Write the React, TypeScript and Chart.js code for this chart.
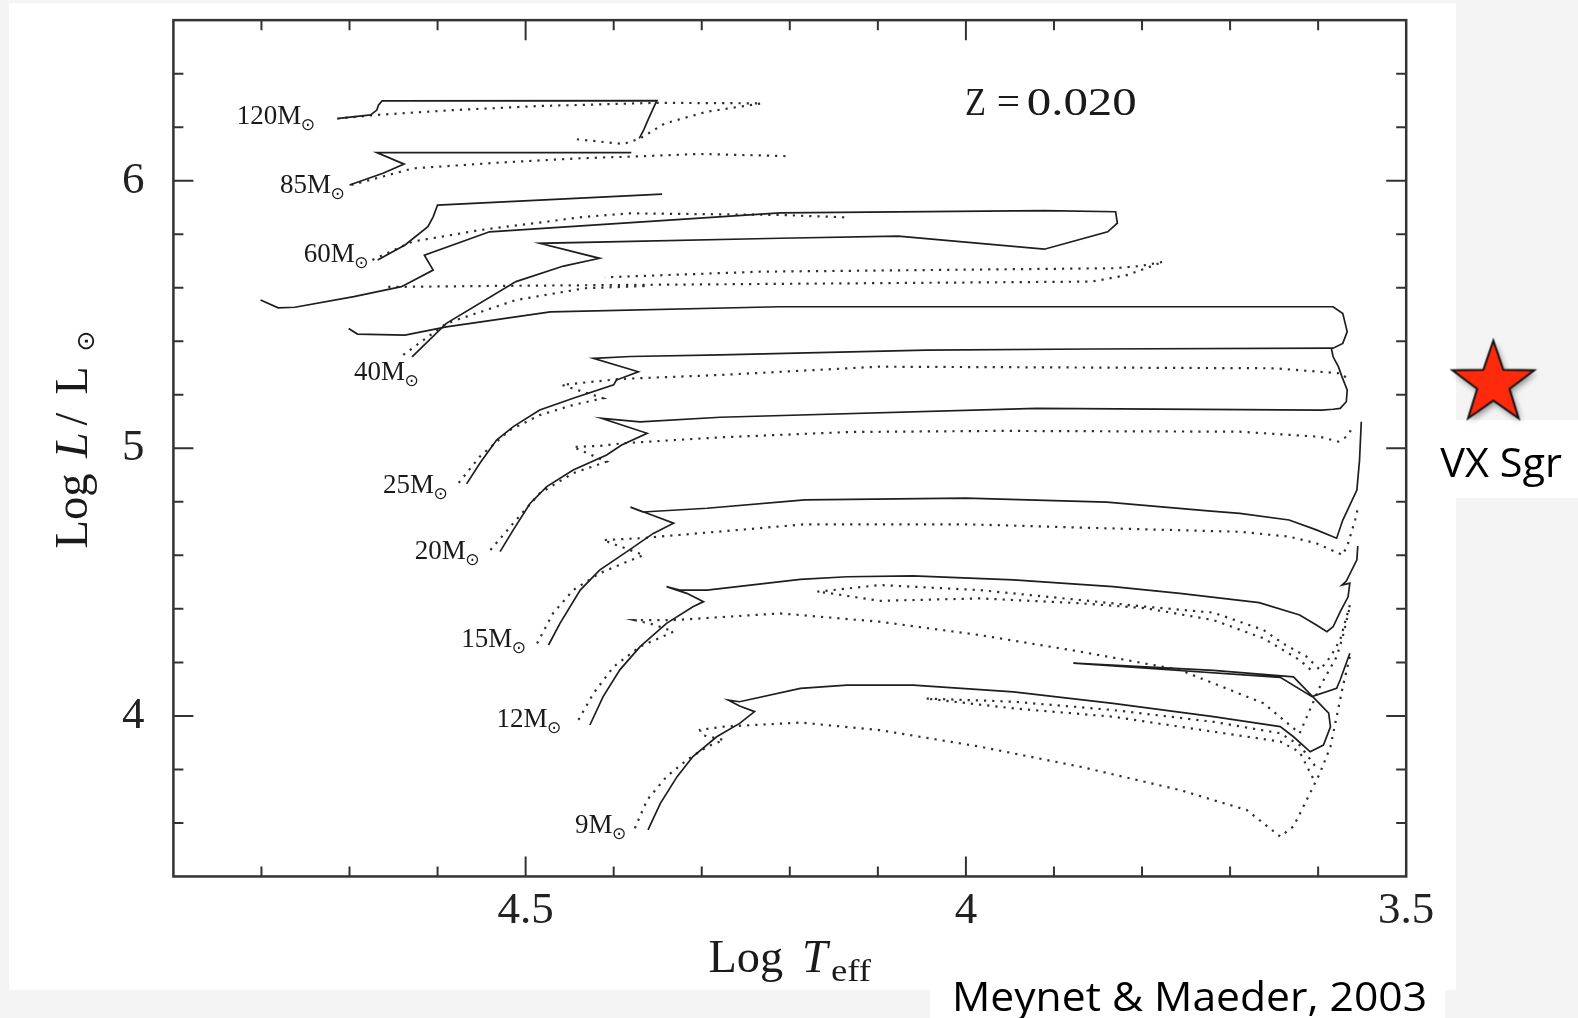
import React, { useEffect, useRef } from "react";
import { Chart, registerables } from "chart.js";

Chart.register(...registerables);

type Pt = [number, number];

// ---------------- Axis ticks ----------------
const xTickValues = [4.8, 4.7, 4.6, 4.5, 4.4, 4.3, 4.2, 4.1, 4.0, 3.9, 3.8, 3.7, 3.6];
const xMajorTicks = [4.5, 4.0];
const xTickLabels = ["4.5", "4", "3.5"];
const yTickValues = [3.6, 3.8, 4.0, 4.2, 4.4, 4.6, 4.8, 5.0, 5.2, 5.4, 5.6, 5.8, 6.0, 6.2, 6.4];
const yMajorTicks = [4, 5, 6];
const yTickLabels = ["4", "5", "6"];

// ---------------- Tracks (log Teff, log L/Lsun) ----------------
const m120Solid: Pt[] = [[4.712,6.233],[4.676,6.246],[4.669,6.264],[4.667,6.283],[4.663,6.298],[4.351,6.299],[4.356,6.264],[4.361,6.227],[4.366,6.189],[4.371,6.158]];
const m120Dotted: Pt[] = [[4.714,6.232],[4.669,6.246],[4.581,6.264],[4.485,6.279],[4.351,6.291],[4.232,6.289],[4.294,6.258],[4.342,6.214],[4.370,6.158],[4.389,6.137],[4.442,6.155]];

const m85Solid: Pt[] = [[4.700,5.984],[4.662,6.028],[4.638,6.062],[4.669,6.105],[4.581,6.105],[4.380,6.105]];
const m85Dotted: Pt[] = [[4.698,5.984],[4.628,6.046],[4.533,6.067],[4.437,6.084],[4.380,6.090],[4.303,6.100],[4.203,6.092]];

const m60Solid: Pt[] = [[4.668,5.704],[4.637,5.760],[4.611,5.828],[4.605,5.865],[4.600,5.909],[4.345,5.950]];
const m60Dotted: Pt[] = [[4.674,5.704],[4.629,5.772],[4.551,5.816],[4.433,5.865],[4.382,5.878],[4.211,5.872],[4.137,5.863]];

const m40Solid: Pt[] = [[4.629,5.342],[4.590,5.467],[4.511,5.623],[4.457,5.681],[4.416,5.710],[4.484,5.766],[4.211,5.785],[4.077,5.793],[3.911,5.744],[3.839,5.809],[3.828,5.841],[3.830,5.884],[3.911,5.888],[4.211,5.880],[4.541,5.809],[4.615,5.722],[4.605,5.666],[4.641,5.604],[4.695,5.567],[4.762,5.527],[4.781,5.525],[4.801,5.554]];
const m40Dotted: Pt[] = [[4.639,5.349],[4.590,5.467],[4.511,5.554],[4.433,5.598],[4.359,5.607]];
const m40DottedLoop: Pt[] = [[4.656,5.603],[4.529,5.607],[4.234,5.614],[3.857,5.623],[3.816,5.648],[3.776,5.697],[3.802,5.681],[3.830,5.673],[4.234,5.660],[4.410,5.639]];

const m25Solid: Pt[] = [[4.567,4.867],[4.552,4.944],[4.533,5.031],[4.514,5.081],[4.484,5.143],[4.446,5.187],[4.400,5.237],[4.397,5.255],[4.372,5.286],[4.423,5.336],[4.381,5.343],[4.279,5.349],[4.045,5.367],[3.857,5.371],[3.583,5.374],[3.572,5.392],[3.567,5.436],[3.572,5.504],[3.583,5.529],[4.211,5.529],[4.472,5.510],[4.590,5.454],[4.637,5.423],[4.691,5.427],[4.701,5.448]];
const m25Dotted: Pt[] = [[4.576,4.871],[4.552,4.969],[4.518,5.068],[4.484,5.124],[4.446,5.162],[4.412,5.187],[4.459,5.237],[4.393,5.259],[4.279,5.274],[4.099,5.305],[3.650,5.299],[3.574,5.280],[3.565,5.255]];

const m20Solid: Pt[] = [[4.529,4.614],[4.514,4.695],[4.495,4.794],[4.476,4.857],[4.446,4.919],[4.408,4.975],[4.391,5.012],[4.362,5.056],[4.414,5.112],[4.370,5.099],[4.279,5.116],[3.920,5.149],[3.596,5.143],[3.583,5.146],[3.575,5.149],[3.568,5.174],[3.567,5.218],[3.573,5.268],[3.577,5.305],[3.583,5.342],[3.585,5.374]];
const m20Dotted: Pt[] = [[4.540,4.620],[4.514,4.720],[4.484,4.832],[4.446,4.907],[4.408,4.950],[4.446,5.005],[4.416,5.009],[4.389,5.019],[4.279,5.041],[4.131,5.061],[3.961,5.065],[3.689,5.062],[3.598,5.043],[3.577,5.025],[3.568,5.043],[3.560,5.081]];

const m15Solid: Pt[] = [[4.474,4.265],[4.461,4.346],[4.438,4.470],[4.416,4.545],[4.385,4.614],[4.355,4.682],[4.332,4.720],[4.362,4.757],[4.381,4.780],[4.367,4.762],[4.294,4.776],[4.183,4.807],[4.000,4.814],[3.840,4.799],[3.725,4.766],[3.689,4.757],[3.633,4.732],[3.602,4.695],[3.579,4.664],[3.572,4.732],[3.556,4.844],[3.553,4.956],[3.551,5.099]];
const m15Dotted: Pt[] = [[4.487,4.271],[4.469,4.383],[4.446,4.470],[4.416,4.533],[4.385,4.576],[4.366,4.601],[4.412,4.657],[4.370,4.664],[4.294,4.685],[4.183,4.716],[4.000,4.716],[3.840,4.701],[3.689,4.688],[3.633,4.670],[3.602,4.645],[3.572,4.601],[3.566,4.645],[3.558,4.732],[3.555,4.776]];
const m15DottedLoop: Pt[] = [[3.564,4.414],[3.575,4.284],[3.586,4.221],[3.598,4.172],[3.613,4.221],[3.640,4.271],[3.662,4.321],[3.719,4.386],[3.795,4.408],[3.870,4.433],[3.984,4.470],[4.098,4.489],[4.169,4.464],[4.154,4.458],[4.098,4.430],[3.984,4.439],[3.870,4.421],[3.795,4.402],[3.719,4.358],[3.662,4.290],[3.621,4.209],[3.606,4.165]];

const m12Solid: Pt[] = [[4.427,3.966],[4.412,4.072],[4.393,4.172],[4.370,4.259],[4.340,4.346],[4.310,4.408],[4.298,4.427],[4.317,4.458],[4.340,4.483],[4.325,4.470],[4.294,4.470],[4.188,4.510],[4.135,4.520],[4.060,4.523],[3.946,4.508],[3.833,4.483],[3.757,4.458],[3.667,4.423],[3.621,4.377],[3.602,4.340],[3.590,4.315],[3.583,4.333],[3.575,4.389],[3.566,4.445],[3.564,4.496],[3.573,4.489],[3.568,4.504],[3.556,4.583],[3.555,4.635]];
const m12Dotted: Pt[] = [[4.440,3.985],[4.423,4.084],[4.400,4.184],[4.370,4.259],[4.332,4.315],[4.353,4.340],[4.376,4.358],[4.332,4.358],[4.211,4.383],[4.098,4.352],[3.984,4.302],[3.870,4.240],[3.757,4.172],[3.662,4.047],[3.621,3.935],[3.598,4.109],[3.579,4.221],[3.572,4.296],[3.564,4.408]];

const m9Solid: Pt[] = [[4.361,3.574],[4.347,3.673],[4.328,3.773],[4.310,3.848],[4.283,3.922],[4.257,3.972],[4.240,4.016],[4.257,4.037],[4.270,4.059],[4.257,4.053],[4.188,4.103],[4.135,4.115],[4.060,4.115],[3.946,4.090],[3.833,4.047],[3.719,3.997],[3.643,3.960],[3.628,3.922],[3.609,3.866],[3.594,3.891],[3.586,3.959],[3.588,4.010],[3.628,4.146],[3.719,4.170],[3.878,4.197],[3.795,4.178],[3.643,4.144],[3.607,4.072],[3.579,4.103],[3.575,4.134],[3.564,4.234]];
const m9Dotted: Pt[] = [[4.376,3.580],[4.362,3.686],[4.340,3.773],[4.317,3.835],[4.294,3.885],[4.275,3.910],[4.300,3.929],[4.302,3.948],[4.275,3.960],[4.188,3.975],[4.098,3.947],[3.984,3.885],[3.870,3.810],[3.757,3.723],[3.681,3.648],[3.643,3.549],[3.628,3.587],[3.613,3.686],[3.598,3.786],[3.586,3.885],[3.579,3.997],[3.572,4.109],[3.564,4.221]];
const m9DottedLoop: Pt[] = [[3.606,3.768],[3.621,3.865],[3.643,3.904],[3.719,3.941],[3.833,3.997],[3.946,4.028],[4.046,4.065],[3.946,4.053],[3.833,4.022],[3.719,3.978],[3.643,3.935],[3.621,3.891],[3.602,3.806]];

// ---------------- Labels ----------------
const massLabels = ["120M", "85M", "60M", "40M", "25M", "20M", "15M", "12M", "9M"];
const massLabelAnchors: Pt[] = [[4.828,6.211],[4.779,5.953],[4.752,5.697],[4.695,5.255],[4.662,4.834],[4.626,4.585],[4.573,4.259],[4.533,3.960],[4.444,3.561]];
const metallicityLabel = ["Z", "=", "0.020"];
const metallicityAnchor: Pt = [4.001, 6.2455];

const starName = "VX Sgr";
const starPoint: Pt = [3.401, 5.242];
const sourceText = "Meynet & Maeder, 2003";

const solidTracks = [m120Solid, m85Solid, m60Solid, m40Solid, m25Solid, m20Solid, m15Solid, m12Solid, m9Solid];
const dottedTracks = [m120Dotted, m85Dotted, m60Dotted, m40Dotted, m40DottedLoop, m25Dotted, m20Dotted, m15Dotted, m15DottedLoop, m12Dotted, m9Dotted, m9DottedLoop];

const W = 1578;
const H = 1018;
const SERIF = '"Liberation Serif", "Times New Roman", serif';
const SANS = '"Open Sans", "Noto Sans", sans-serif';

function makeStar(): HTMLCanvasElement {
  const c = document.createElement("canvas");
  c.width = 112;
  c.height = 112;
  const g = c.getContext("2d")!;
  const cx = 56, cy = 56, R = 43, r = 17;
  g.beginPath();
  for (let i = 0; i < 10; i++) {
    const a = -Math.PI / 2 + (i * Math.PI) / 5;
    const rad = i % 2 === 0 ? R : r;
    const px = cx + rad * Math.cos(a);
    const py = cy + rad * Math.sin(a);
    if (i === 0) g.moveTo(px, py);
    else g.lineTo(px, py);
  }
  g.closePath();
  g.save();
  g.shadowColor = "rgba(0,0,0,0.45)";
  g.shadowBlur = 6;
  g.shadowOffsetX = 2;
  g.shadowOffsetY = 3;
  g.fillStyle = "#ff2a0c";
  g.fill();
  g.restore();
  g.lineWidth = 2;
  g.strokeStyle = "#111";
  g.stroke();
  return c;
}

function fitText(ctx: CanvasRenderingContext2D, s: string, x: number, y: number, font: string, w?: number) {
  ctx.save();
  ctx.font = font;
  ctx.translate(x, y);
  if (w) {
    const m = ctx.measureText(s).width;
    if (m > 0) ctx.scale(w / m, 1);
  }
  ctx.fillText(s, 0, 0);
  ctx.restore();
}

const figurePlugin = {
  id: "figurePlugin",
  beforeDraw(chart: any) {
    const ctx: CanvasRenderingContext2D = chart.ctx;
    ctx.save();
    ctx.fillStyle = "#f4f4f4";
    ctx.fillRect(0, 0, W, H);
    ctx.fillStyle = "#ffffff";
    ctx.fillRect(9, 3, 1447, 987);
    ctx.fillRect(1418, 420, 160, 78);
    ctx.fillRect(930, 975, 515, 43);
    ctx.restore();
  },
  afterDatasetsDraw(chart: any) {
    const ctx: CanvasRenderingContext2D = chart.ctx;
    const x = chart.scales.x;
    const y = chart.scales.y;
    const left = x.getPixelForValue(4.9);
    const right = x.getPixelForValue(3.5);
    const top = y.getPixelForValue(6.6);
    const bottom = y.getPixelForValue(3.4);
    ctx.save();
    ctx.strokeStyle = "#333";
    ctx.lineWidth = 2;
    ctx.beginPath();
    for (const v of xTickValues) {
      const px = x.getPixelForValue(v);
      const len = xMajorTicks.some((m) => Math.abs(m - v) < 1e-6) ? 20 : 10;
      ctx.moveTo(px, bottom);
      ctx.lineTo(px, bottom - len);
      ctx.moveTo(px, top);
      ctx.lineTo(px, top + len);
    }
    for (const v of yTickValues) {
      const py = y.getPixelForValue(v);
      const len = yMajorTicks.some((m) => Math.abs(m - v) < 1e-6) ? 20 : 10;
      ctx.moveTo(left, py);
      ctx.lineTo(left + len, py);
      ctx.moveTo(right, py);
      ctx.lineTo(right - len, py);
    }
    ctx.stroke();
    ctx.lineWidth = 2.5;
    ctx.strokeRect(left, top, right - left, bottom - top);
    ctx.restore();
  },
  afterDraw(chart: any) {
    const ctx: CanvasRenderingContext2D = chart.ctx;
    const x = chart.scales.x;
    const y = chart.scales.y;
    ctx.save();
    ctx.fillStyle = "#1a1a1a";
    ctx.textBaseline = "alphabetic";
    ctx.textAlign = "left";

    // mass labels
    massLabels.forEach((lab, i) => {
      const px = x.getPixelForValue(massLabelAnchors[i][0]);
      const py = y.getPixelForValue(massLabelAnchors[i][1]);
      ctx.font = `27px ${SERIF}`;
      const w = ctx.measureText(lab).width;
      ctx.fillText(lab, px, py);
      ctx.save();
      ctx.font = '17px "DejaVu Sans"';
      ctx.textBaseline = "middle";
      ctx.fillText("\u2299", px + w - 0.5, py + 1.5);
      ctx.restore();
    });

    // Z = 0.020
    {
      const px = x.getPixelForValue(metallicityAnchor[0]);
      const py = y.getPixelForValue(metallicityAnchor[1]);
      const f = `40px ${SERIF}`;
      fitText(ctx, metallicityLabel[0], px, py, f, 21);
      fitText(ctx, metallicityLabel[1], px + 31.7, py, f, 23.3);
      fitText(ctx, metallicityLabel[2], px + 61.7, py, f, 110);
    }

    // x-axis title: Log T_eff
    fitText(ctx, "Log", 708.5, 972, `46px ${SERIF}`, 74.5);
    fitText(ctx, "T", 802, 972, `italic 46px ${SERIF}`);
    fitText(ctx, "eff", 831, 981, `31px ${SERIF}`, 40);

    // y-axis title: Log L/L_sun (rotated)
    ctx.save();
    ctx.translate(86.5, 548.5);
    ctx.rotate(-Math.PI / 2);
    fitText(ctx, "Log", 0, 0, `46px ${SERIF}`, 75);
    fitText(ctx, "L", 90.5, 0, `italic 46px ${SERIF}`);
    fitText(ctx, "/", 123, 0, `46px ${SERIF}`);
    fitText(ctx, "L", 154, 0, `46px ${SERIF}`);
    ctx.font = '25px "DejaVu Sans"';
    ctx.textBaseline = "middle";
    ctx.fillText("\u2299", 197, 1);
    ctx.restore();

    // star name and source
    ctx.fillStyle = "#000";
    const sx = x.getPixelForValue(starPoint[0]);
    const sy = y.getPixelForValue(starPoint[1]);
    fitText(ctx, starName, sx - 53, sy + 93, `40px ${SANS}`, 121.7);
    fitText(ctx, sourceText, 952, 1011, `40px ${SANS}`, 475);
    ctx.restore();
  },
};

export default function App() {
  const ref = useRef<HTMLCanvasElement | null>(null);

  useEffect(() => {
    document.body.style.margin = "0";
    const canvas = ref.current!;
    const datasets: any[] = [];
    solidTracks.forEach((t) => {
      datasets.push({
        data: t.map(([a, b]) => ({ x: a, y: b })),
        showLine: true,
        pointRadius: 0,
        borderColor: "#1e1e1e",
        borderWidth: 1.7,
        tension: 0,
        fill: false,
      });
    });
    dottedTracks.forEach((t) => {
      datasets.push({
        data: t.map(([a, b]) => ({ x: a, y: b })),
        showLine: true,
        pointRadius: 0,
        borderColor: "#2e2e2e",
        borderWidth: 2.2,
        borderDash: [2.2, 6],
        borderCapStyle: "butt",
        tension: 0,
        fill: false,
      });
    });
    datasets.push({
      data: [{ x: starPoint[0], y: starPoint[1] }],
      showLine: false,
      pointStyle: makeStar(),
      pointRadius: 10,
      clip: false,
    });

    const chart = new Chart(canvas, {
      type: "scatter",
      data: { datasets },
      options: {
        responsive: false,
        animation: false,
        devicePixelRatio: 1,
        events: [],
        layout: { padding: { left: 53.4, right: 13.3, top: 20.14, bottom: 41.54 } },
        plugins: { legend: { display: false }, tooltip: { enabled: false } },
        scales: {
          x: {
            type: "linear",
            reverse: true,
            min: 3.32,
            max: 4.9,
            grid: { display: false, drawTicks: false },
            border: { display: false },
            afterFit: (s: any) => {
              s.height = 100;
              s.paddingLeft = 0;
              s.paddingRight = 0;
            },
            ticks: {
              stepSize: 0.5,
              autoSkip: false,
              maxRotation: 0,
              padding: 8,
              color: "#222",
              font: { family: SERIF, size: 45 },
              callback: (v: any) => {
                const n = Number(v);
                const lab = xTickLabels.find((l) => Math.abs(parseFloat(l) - n) < 1e-6);
                return lab ?? "";
              },
            },
          },
          y: {
            type: "linear",
            min: 3.4,
            max: 6.6,
            grid: { display: false, drawTicks: false },
            border: { display: false },
            afterFit: (s: any) => {
              s.width = 120;
              s.paddingTop = 0;
              s.paddingBottom = 0;
            },
            ticks: {
              stepSize: 1,
              autoSkip: false,
              padding: 29,
              color: "#222",
              font: { family: SERIF, size: 45 },
              callback: (v: any) => {
                const n = Number(v);
                const lab = yTickLabels.find((l) => Math.abs(parseFloat(l) - n) < 1e-6);
                return lab ?? "";
              },
            },
          },
        },
      },
      plugins: [figurePlugin],
    } as any);

    return () => chart.destroy();
  }, []);

  return (
    <div style={{ width: W, height: H, overflow: "hidden" }}>
      <canvas ref={ref} width={W} height={H} style={{ display: "block" }} />
    </div>
  );
}
